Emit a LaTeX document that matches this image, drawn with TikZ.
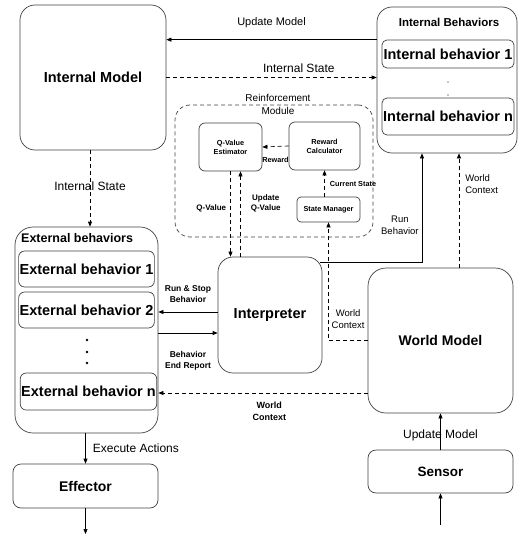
\documentclass[tikz,border=0pt]{standalone}
\usepackage{fontspec}
\setmainfont{Liberation Sans}
\usetikzlibrary{arrows.meta}

\begin{document}
\begin{tikzpicture}[x=1pt,y=-1pt,>={Triangle[length=5pt,width=4pt]},
  box/.style={draw=black!75,line width=.7pt,rounded corners=#1,inner sep=0pt},
  box/.default=15pt,
  dline/.style={dash pattern=on 4pt off 3pt},
  conn/.style={line width=.7pt},
  txt/.style 2 args={inner sep=1pt,font=\fontsize{#1}{#2}\selectfont},
  btxt/.style 2 args={inner sep=1pt,font=\bfseries\fontsize{#1}{#2}\selectfont}]
\useasboundingbox (0,0) rectangle (518,535);

% internal side
\node[box,minimum width=146pt,minimum height=145pt,btxt={14.5}{17}] (intmodel) at (93,77.5) {Internal Model};
\node[box,minimum width=140pt,minimum height=146pt] (intbeh) at (447,80) {};
\node[btxt={11.5}{14}] (intbehtitle) at (449,22) {Internal Behaviors};
\node[box=5pt,minimum width=132pt,minimum height=28pt,btxt={14.5}{17}] (intbehone) at (448,54) {Internal behavior 1};
\node[box=5pt,minimum width=132pt,minimum height=37pt,btxt={14.5}{17}] (intbehn) at (448,116.5) {Internal behavior n};
\fill (448,82) circle (.7pt) (448,95) circle (.7pt);

% reinforcement module
\node[box,dline,minimum width=198pt,minimum height=132pt] (reinf) at (274,171) {};
\node[txt={10}{13},align=center] (reinflbl) at (278,104) {Reinforcement\\Module};
\node[box=6pt,minimum width=63pt,minimum height=48pt,btxt={7.3}{9},align=center] (qval) at (230.5,147) {Q-Value\\Estimator};
\node[box=6pt,minimum width=71pt,minimum height=48pt,btxt={7.3}{9},align=center] (reward) at (324.5,146) {Reward\\Calculator};
\node[box=4pt,minimum width=63pt,minimum height=25pt,btxt={7.3}{9}] (statemgr) at (328.5,209.5) {State Manager};

\node[box,minimum width=104pt,minimum height=116pt,btxt={14.5}{17}] (interp) at (270,315) {Interpreter};
\node[box=18pt,minimum width=145pt,minimum height=145pt,btxt={14}{17}] (worldm) at (440.5,340.5) {World Model};

% external side
\node[box=18pt,minimum width=143pt,minimum height=206pt] (extbeh) at (86.5,330) {};
\node[btxt={12.5}{15},anchor=west] (exttitle) at (20,238) {External behaviors};
\node[box=6pt,minimum width=133pt,minimum height=36pt,btxt={14.5}{17}] (extone) at (86.5,269) {External behavior 1};
\node[box=6pt,minimum width=133pt,minimum height=36pt,btxt={14.5}{17}] (exttwo) at (86.5,310) {External behavior 2};
\node[box=6pt,minimum width=133pt,minimum height=37pt,btxt={14.5}{17}] (extn) at (88.5,391.5) {External behavior n};
\foreach \y in {340,352,363} \fill (87,\y) circle (1.4pt);

\node[box=8pt,minimum width=145pt,minimum height=44pt,btxt={14}{17}] (effector) at (85.5,486) {Effector};
\node[box=8pt,minimum width=145pt,minimum height=43pt,btxt={13.5}{17}] (sensor) at (440.5,471.5) {Sensor};
\coordinate (actout) at (85.5,534);
\coordinate (sensin) at (440.5,525);

% connectors
\draw[conn,->] (intbeh.west |- intbehone.north) -- node[txt={11}{13},above=11pt] {Update Model} (intmodel.east |- intbehone.north);
\draw[conn,dline,->] (intmodel.east) -- node[txt={12}{14},pos=.63,above=4pt] {Internal State} (intmodel.east -| intbeh.west);
\draw[conn,dline,->] (qval.south) -- node[btxt={8}{10},pos=.43,left=3pt] {Q-Value} (qval.south |- interp.north);
\draw[conn,dline,->] ([xshift=10pt]qval.south |- interp.north) -- node[btxt={8}{10},pos=.63,right=9pt,align=center] {Update\\Q-Value} ([xshift=10pt]qval.south);
\draw[conn,dline,->] (reward.west) -- node[btxt={7.3}{9},below=9pt] {Reward} (qval.east);
\draw[conn,dline,->] (statemgr.north -| reward.south) -- node[btxt={7.3}{9},right=4pt] {Current State} (reward.south);
\draw[conn,dline,->] (worldm.west) -| node[txt={9.5}{12},pos=.25,above=11pt,align=center] {World\\Context} (statemgr.south);
\draw[conn,->] ([xshift=-2pt,yshift=-6pt]interp.north east) -| node[txt={9.5}{12},pos=.67,left=2pt,align=center] {Run\\Behavior} ([xshift=-25pt]intbeh.south);
\draw[conn,dline,->] ([xshift=18.5pt]worldm.north) -- node[txt={9.5}{12},pos=.73,right=5pt,align=left] {World\\Context} ([xshift=18.5pt]worldm.north |- intbeh.south);
\draw[conn,->] ([yshift=3pt]interp.west) -- node[btxt={8.5}{11},above=8pt,align=center] {Run \& Stop\\Behavior} ([yshift=3pt]interp.west -| extbeh.east);
\draw[conn,->] ([yshift=-18pt]interp.west -| extbeh.east) -- node[btxt={8.5}{10.5},below=17pt,align=center] {Behavior\\End Report} ([yshift=-18pt]interp.west);
\draw[conn,dline,->] ([yshift=-52.5pt]worldm.west) -- node[btxt={9}{12},pos=.47,below=8pt,align=center] {World\\Context} ([yshift=-52.5pt]worldm.west -| extbeh.east);
\draw[conn,dline,->] ([xshift=-3pt]intmodel.south) -- node[txt={12}{14},pos=.47] {Internal State} ([xshift=-3pt]intmodel.south |- extbeh.north);
\draw[conn,->] (effector.north |- extbeh.south) -- node[txt={12}{14},right=6pt] {Execute Actions} (effector.north);
\draw[conn,->] (effector.south) -- (actout);
\draw[conn,->] (sensin) -- (sensor.south);
\draw[conn,->] (sensor.north) -- node[txt={12}{14},pos=.4] {Update Model} (worldm.south);
\end{tikzpicture}
\end{document}
